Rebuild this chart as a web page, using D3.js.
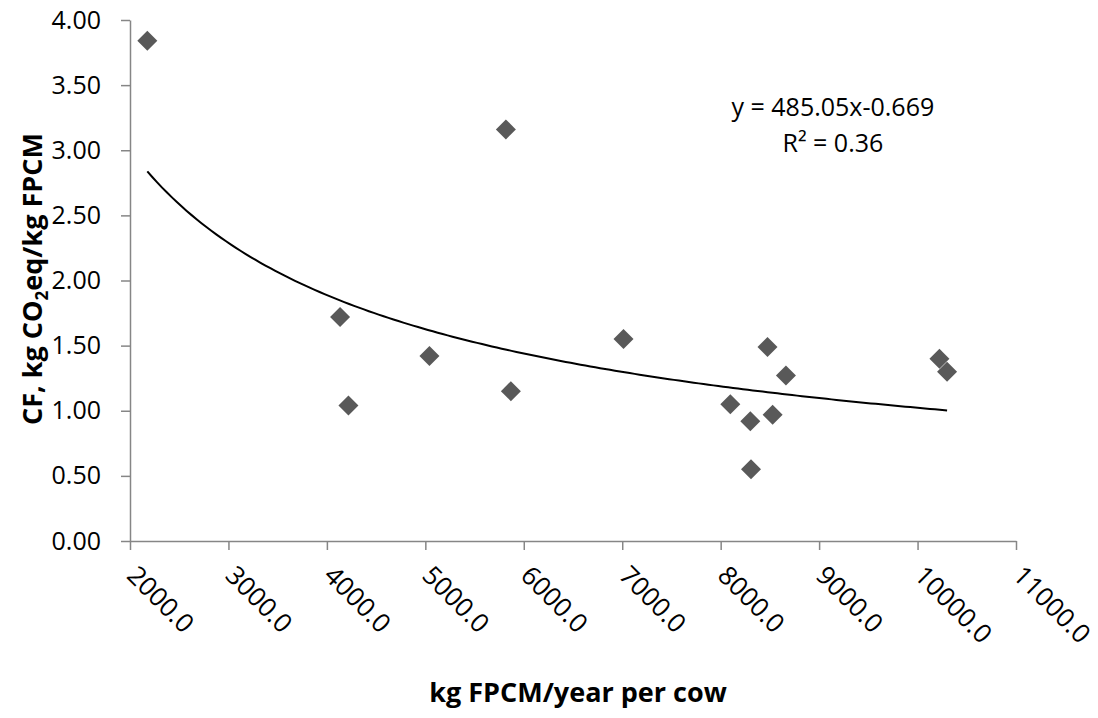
<!DOCTYPE html>
<html lang="en">

<head>
    <meta charset="utf-8" />
    <title>CF vs milk yield</title>
    <script src="https://cdn.jsdelivr.net/npm/d3@7"></script>
    <style>
        body { margin: 0; background: #fff; }
        text { font-family: 'Open Sans', sans-serif; fill: #000; }
    </style>
</head>

<body>
    <div id='chart'></div>
</body>
<script>

    // milk yield, kg FPCM/year per cow
    let yieldKg = [2176, 4134, 4219, 5042, 5818, 5869, 7013, 8098, 8301, 8308, 8476, 8528, 8663, 10222, 10300];
    // carbon footprint, kg CO2eq/kg FPCM
    let cf = [3.84, 1.72, 1.04, 1.42, 3.16, 1.15, 1.55, 1.05, 0.92, 0.55, 1.49, 0.97, 1.27, 1.40, 1.30];

    let xTicks = [2000, 3000, 4000, 5000, 6000, 7000, 8000, 9000, 10000, 11000];
    let yTicks = [0, 0.5, 1, 1.5, 2, 2.5, 3, 3.5, 4];

    // power trend y = a * x^b
    let trendA = 485.05, trendB = -0.669;

    let W = 1098, H = 718;
    let margin = { top: 20, bottom: 177, left: 130, right: 82 };
    let width = W - margin.left - margin.right,
        height = H - margin.top - margin.bottom;

    let svg = d3.select('#chart')
        .append('svg')
        .attr('width', W)
        .attr('height', H);

    let x = d3.scaleLinear()
        .domain([2000, 11000])
        .range([0, width]);

    let y = d3.scaleLinear()
        .domain([0, 4])
        .range([height, 0]);

    let g = svg.append('g')
        .attr('transform', 'translate(' + margin.left + ',' + margin.top + ')');

    let xAxis = d3.axisBottom(x)
        .tickValues(xTicks)
        .tickSize(9)
        .tickSizeOuter(0)
        .tickFormat(d3.format('.1f'));

    let yAxis = d3.axisLeft(y)
        .tickValues(yTicks)
        .tickSize(9)
        .tickSizeOuter(0)
        .tickPadding(20)
        .tickFormat(d3.format('.2f'));

    let gy = g.append('g')
        .attr('class', 'y-axis')
        .call(yAxis);

    let gx = g.append('g')
        .attr('class', 'x-axis')
        .attr('transform', 'translate(0,' + height + ')')
        .call(xAxis);

    g.selectAll('.domain, .tick line')
        .attr('stroke', '#868686')
        .attr('stroke-width', 1.5);

    gy.selectAll('.tick text')
        .style('font-size', '25px')
        .attr('fill', '#000');

    gx.selectAll('.tick text')
        .style('font-size', '26px')
        .attr('fill', '#000')
        .attr('text-anchor', 'start')
        .attr('x', 0)
        .attr('y', 0)
        .attr('dy', 0)
        .attr('transform', 'translate(-5,36) rotate(45)');

    // trend line
    let trendX = d3.range(d3.min(yieldKg), d3.max(yieldKg) + 1, 50);
    trendX.push(d3.max(yieldKg));
    let line = d3.line()
        .x(d => x(d))
        .y(d => y(trendA * Math.pow(d, trendB)));

    g.append('path')
        .datum(trendX)
        .attr('fill', 'none')
        .attr('stroke', '#000')
        .attr('stroke-width', 2)
        .attr('d', line);

    // points
    let diamond = d3.symbol().type(d3.symbolSquare).size(200);
    g.selectAll('.dot')
        .data(yieldKg)
        .enter().append('path')
        .attr('class', 'dot')
        .attr('d', diamond)
        .attr('fill', '#595959')
        .attr('transform', (d, i) => 'translate(' + x(d) + ',' + y(cf[i]) + ') rotate(45)');

    // equation
    let eq = g.append('text')
        .attr('text-anchor', 'middle')
        .style('font-size', '25px');
    eq.append('tspan')
        .attr('x', x(9140))
        .attr('y', y(3.26))
        .text('y = 485.05x-0.669');
    eq.append('tspan')
        .attr('x', x(9140))
        .attr('dy', 36)
        .text('R² = 0.36');

    // axis titles
    svg.append('text')
        .attr('x', 578)
        .attr('y', 702)
        .attr('text-anchor', 'middle')
        .style('font-size', '27px')
        .style('font-weight', 'bold')
        .text('kg FPCM/year per cow');

    let yt = svg.append('text')
        .attr('transform', 'translate(42,279) rotate(-90)')
        .attr('text-anchor', 'middle')
        .style('font-size', '27px')
        .style('font-weight', 'bold');
    yt.append('tspan').text('CF, kg CO');
    yt.append('tspan').text('2').style('font-size', '17px').attr('dy', 6);
    yt.append('tspan').text('eq/kg FPCM').attr('dy', -6);

</script>

</html>
